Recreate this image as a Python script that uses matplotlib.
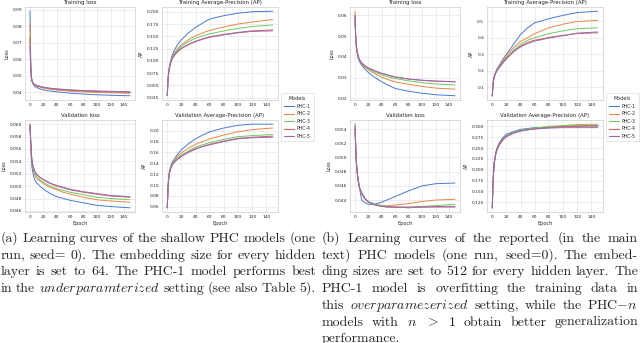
import numpy as np
import matplotlib
matplotlib.use("Agg")
import matplotlib.pyplot as plt
import seaborn as sns
from matplotlib.ticker import MultipleLocator

epochs = [0, 1, 2, 3, 5, 7, 10, 15, 20, 30, 40, 50, 60, 80, 100, 120, 149]
models = ["PHC-1", "PHC-2", "PHC-3", "PHC-4", "PHC-5"]

# (a) shallow models
a_train_loss = [
    [0.089, 0.060, 0.050, 0.0465, 0.0445, 0.0435, 0.0428, 0.0420, 0.0414, 0.0407, 0.0402, 0.0398, 0.0394, 0.0388, 0.0384, 0.0381, 0.0378],
    [0.082, 0.058, 0.050, 0.0468, 0.0450, 0.0442, 0.0436, 0.0430, 0.0425, 0.0418, 0.0413, 0.0409, 0.0406, 0.0401, 0.0398, 0.0396, 0.0393],
    [0.074, 0.056, 0.049, 0.0468, 0.0452, 0.0445, 0.0440, 0.0434, 0.0429, 0.0422, 0.0418, 0.0415, 0.0412, 0.0408, 0.0405, 0.0403, 0.0400],
    [0.073, 0.055, 0.049, 0.0467, 0.0451, 0.0444, 0.0439, 0.0433, 0.0428, 0.0421, 0.0417, 0.0414, 0.0411, 0.0407, 0.0404, 0.0402, 0.0399],
    [0.068, 0.054, 0.049, 0.0466, 0.0452, 0.0446, 0.0441, 0.0435, 0.0430, 0.0424, 0.0420, 0.0417, 0.0414, 0.0410, 0.0407, 0.0405, 0.0402],
]
a_train_ap = [
    [0.030, 0.062, 0.078, 0.088, 0.101, 0.111, 0.122, 0.134, 0.143, 0.157, 0.168, 0.177, 0.185, 0.192, 0.197, 0.200, 0.201],
    [0.030, 0.062, 0.077, 0.087, 0.099, 0.107, 0.116, 0.126, 0.133, 0.143, 0.151, 0.157, 0.162, 0.169, 0.175, 0.179, 0.184],
    [0.030, 0.061, 0.076, 0.086, 0.098, 0.106, 0.114, 0.123, 0.130, 0.139, 0.146, 0.151, 0.155, 0.161, 0.166, 0.170, 0.173],
    [0.029, 0.060, 0.075, 0.085, 0.097, 0.104, 0.111, 0.119, 0.125, 0.133, 0.139, 0.144, 0.148, 0.153, 0.157, 0.160, 0.161],
    [0.030, 0.061, 0.076, 0.086, 0.098, 0.105, 0.112, 0.120, 0.126, 0.134, 0.140, 0.145, 0.149, 0.154, 0.158, 0.161, 0.163],
]
a_val_loss = [
    [0.0600, 0.0570, 0.0545, 0.0530, 0.0518, 0.0510, 0.0505, 0.0500, 0.0495, 0.0488, 0.0483, 0.0480, 0.0477, 0.0473, 0.0469, 0.0467, 0.0465],
    [0.0598, 0.0572, 0.0550, 0.0537, 0.0525, 0.0518, 0.0512, 0.0508, 0.0504, 0.0498, 0.0494, 0.0490, 0.0487, 0.0482, 0.0478, 0.0476, 0.0474],
    [0.0596, 0.0572, 0.0552, 0.0538, 0.0527, 0.0521, 0.0515, 0.0510, 0.0506, 0.0500, 0.0496, 0.0493, 0.0490, 0.0486, 0.0482, 0.0480, 0.0478],
    [0.0599, 0.0575, 0.0553, 0.0540, 0.0530, 0.0524, 0.0519, 0.0514, 0.0510, 0.0504, 0.0500, 0.0497, 0.0494, 0.0490, 0.0487, 0.0484, 0.0482],
    [0.0597, 0.0574, 0.0553, 0.0540, 0.0530, 0.0524, 0.0519, 0.0514, 0.0511, 0.0505, 0.0501, 0.0498, 0.0495, 0.0491, 0.0488, 0.0485, 0.0483],
]
a_val_ap = [
    [0.058, 0.095, 0.115, 0.125, 0.135, 0.142, 0.148, 0.157, 0.165, 0.176, 0.185, 0.192, 0.198, 0.205, 0.210, 0.212, 0.212],
    [0.058, 0.094, 0.113, 0.123, 0.133, 0.139, 0.145, 0.153, 0.159, 0.168, 0.175, 0.180, 0.185, 0.192, 0.198, 0.202, 0.205],
    [0.058, 0.094, 0.113, 0.123, 0.132, 0.138, 0.144, 0.150, 0.155, 0.163, 0.170, 0.174, 0.178, 0.184, 0.189, 0.191, 0.193],
    [0.058, 0.093, 0.112, 0.122, 0.131, 0.137, 0.142, 0.148, 0.153, 0.160, 0.166, 0.171, 0.175, 0.181, 0.186, 0.188, 0.190],
    [0.058, 0.093, 0.112, 0.122, 0.131, 0.137, 0.142, 0.148, 0.153, 0.161, 0.167, 0.171, 0.174, 0.180, 0.185, 0.187, 0.188],
]

# (b) reported models
b_train_loss = [
    [0.060, 0.050, 0.045, 0.042, 0.039, 0.0375, 0.036, 0.034, 0.0325, 0.030, 0.028, 0.0263, 0.0248, 0.0235, 0.0225, 0.0218, 0.0213],
    [0.062, 0.051, 0.046, 0.043, 0.040, 0.038, 0.0365, 0.035, 0.0338, 0.0318, 0.0302, 0.029, 0.028, 0.0268, 0.0258, 0.0250, 0.0245],
    [0.059, 0.050, 0.045, 0.0425, 0.0398, 0.0382, 0.0368, 0.0353, 0.0342, 0.0326, 0.0313, 0.0303, 0.0296, 0.0285, 0.0276, 0.0270, 0.0265],
    [0.058, 0.049, 0.045, 0.0425, 0.040, 0.0385, 0.037, 0.0356, 0.0346, 0.0332, 0.0320, 0.0311, 0.0303, 0.0293, 0.0287, 0.0283, 0.0280],
    [0.060, 0.050, 0.0455, 0.043, 0.0402, 0.0386, 0.0372, 0.0357, 0.0347, 0.0333, 0.0321, 0.0312, 0.0304, 0.0294, 0.0288, 0.0284, 0.0281],
]
b_train_ap = [
    [0.05, 0.12, 0.15, 0.17, 0.195, 0.215, 0.235, 0.270, 0.300, 0.360, 0.420, 0.460, 0.490, 0.515, 0.535, 0.552, 0.560],
    [0.05, 0.12, 0.15, 0.17, 0.193, 0.210, 0.230, 0.262, 0.290, 0.340, 0.378, 0.400, 0.425, 0.460, 0.482, 0.498, 0.505],
    [0.05, 0.12, 0.15, 0.17, 0.190, 0.207, 0.225, 0.255, 0.280, 0.325, 0.360, 0.385, 0.400, 0.425, 0.442, 0.455, 0.460],
    [0.05, 0.12, 0.15, 0.168, 0.188, 0.205, 0.222, 0.250, 0.275, 0.318, 0.350, 0.372, 0.385, 0.402, 0.415, 0.425, 0.430],
    [0.05, 0.12, 0.148, 0.167, 0.187, 0.203, 0.220, 0.248, 0.272, 0.315, 0.345, 0.365, 0.380, 0.398, 0.412, 0.428, 0.435],
]
b_val_loss = [
    [0.0547, 0.0520, 0.0495, 0.0480, 0.0465, 0.0455, 0.0440, 0.0436, 0.0434, 0.0434, 0.0437, 0.0441, 0.0445, 0.0453, 0.0460, 0.0463, 0.0464],
    [0.0545, 0.0518, 0.0496, 0.0482, 0.0466, 0.0456, 0.0448, 0.0441, 0.0437, 0.0434, 0.0432, 0.0432, 0.0433, 0.0435, 0.0438, 0.0440, 0.0441],
    [0.0540, 0.0515, 0.0494, 0.0481, 0.0466, 0.0457, 0.0450, 0.0442, 0.0438, 0.0434, 0.0432, 0.0431, 0.0430, 0.0430, 0.0431, 0.0432, 0.0434],
    [0.0538, 0.0514, 0.0493, 0.0480, 0.0466, 0.0457, 0.0450, 0.0442, 0.0437, 0.0433, 0.0431, 0.0430, 0.0430, 0.0430, 0.0430, 0.0431, 0.0431],
    [0.0542, 0.0516, 0.0494, 0.0481, 0.0466, 0.0457, 0.0449, 0.0442, 0.0437, 0.0433, 0.0431, 0.0430, 0.0430, 0.0429, 0.0430, 0.0430, 0.0430],
]
b_val_ap = [
    [0.112, 0.170, 0.200, 0.220, 0.240, 0.252, 0.262, 0.274, 0.282, 0.288, 0.293, 0.295, 0.297, 0.298, 0.300, 0.301, 0.301],
    [0.112, 0.168, 0.198, 0.218, 0.237, 0.248, 0.258, 0.270, 0.277, 0.285, 0.290, 0.293, 0.295, 0.298, 0.300, 0.302, 0.302],
    [0.112, 0.168, 0.198, 0.218, 0.237, 0.249, 0.259, 0.270, 0.278, 0.286, 0.291, 0.294, 0.296, 0.300, 0.302, 0.304, 0.305],
    [0.112, 0.167, 0.197, 0.217, 0.236, 0.247, 0.257, 0.268, 0.276, 0.284, 0.289, 0.292, 0.294, 0.297, 0.299, 0.300, 0.301],
    [0.112, 0.168, 0.198, 0.218, 0.238, 0.250, 0.260, 0.271, 0.278, 0.285, 0.290, 0.292, 0.294, 0.296, 0.297, 0.297, 0.297],
]

caption_a = [
    "(a) Learning curves of the shallow PHC models (one",
    "run, seed= 0). The embedding size for every hidden",
    "layer is set to 64. The PHC-1 model performs best",
    "in the $\\mathit{underparamterized}$ setting (see also Table 5).",
]
caption_b = [
    "(b) Learning curves of the reported (in the main",
    "text) PHC models (one run, seed=0). The embed-",
    "ding sizes are set to 512 for every hidden layer. The",
    "PHC-1 model is overfitting the training data in",
    "this $\\mathit{overparamezerized}$ setting, while the PHC$-n$",
    "models with $n$ $>$ $1$ obtain better generalization",
    "performance.",
]

sns.set_style("whitegrid")
plt.rcParams["mathtext.fontset"] = "cm"
colors = sns.color_palette("muted")

W, H = 640, 343
fig = plt.figure(figsize=(W / 100, H / 100), dpi=100)


def px_axes(x0, y0, x1, y1):
    # axes from pixel box (top-left origin)
    return fig.add_axes([x0 / W, 1 - y1 / H, (x1 - x0) / W, (y1 - y0) / H])


def draw(ax, series, title, ylabel, step, xlabel=False):
    for i, ys in enumerate(series):
        ax.plot(epochs, ys, color=colors[i], lw=0.7, label=models[i])
    ax.set_title(title, fontsize=3.9, pad=2)
    ax.set_ylabel(ylabel, fontsize=3.6, labelpad=2)
    if xlabel:
        ax.set_xlabel("Epoch", fontsize=3.6, labelpad=1.5)
    ax.xaxis.set_major_locator(MultipleLocator(20))
    ax.yaxis.set_major_locator(MultipleLocator(step))
    ax.tick_params(labelsize=3.2, length=0, pad=2)
    for s in ax.spines.values():
        s.set_linewidth(0.5)
        s.set_color("#cccccc")
    ax.grid(lw=0.5, color="#e6e6e6")


panels = [
    (0, [a_train_loss, a_train_ap, a_val_loss, a_val_ap], [0.01, 0.025, 0.002, 0.02]),
    (325, [b_train_loss, b_train_ap, b_val_loss, b_val_ap], [0.01, 0.1, 0.002, 0.025]),
]
titles = ["Training loss", "Training Average-Precision (AP)",
          "Validation loss", "Validation Average-Precision (AP)"]
ylabels = ["Loss", "AP", "Loss", "AP"]

for off, data, steps in panels:
    boxes = [(25, 7, 135, 100), (162, 7, 278, 100), (25, 120, 135, 212), (162, 120, 278, 212)]
    for k, (x0, y0, x1, y1) in enumerate(boxes):
        ax = px_axes(x0 + off, y0, x1 + off, y1)
        draw(ax, data[k], titles[k], ylabels[k], steps[k], xlabel=k >= 2)
    h, l = ax.get_legend_handles_labels()
    leg = fig.legend(h, l, title="Models", loc="upper left",
                     bbox_to_anchor=((280 + off) / W, 1 - 92 / H),
                     fontsize=3.3, title_fontsize=3.5, frameon=True,
                     handlelength=2.2, handletextpad=0.6, borderpad=0.6,
                     borderaxespad=0.3, labelspacing=0.55)
    leg.get_frame().set_linewidth(0.4)
    leg.get_frame().set_edgecolor("#cccccc")
    for line in leg.get_lines():
        line.set_linewidth(0.8)

# captions, justified by hand
renderer = fig.canvas.get_renderer()


def put_line(text, x0, x1, base, justify):
    words = text.split(" ")
    objs = [fig.text(0, 1 - base / H, w, fontsize=10.0, family="cmr10",
                     va="baseline", ha="left") for w in words]
    widths = [t.get_window_extent(renderer).width for t in objs]
    if justify and len(words) > 1:
        gap = max((x1 - x0 - sum(widths)) / (len(words) - 1), 2.5)
    else:
        gap = 4.6
    x = x0
    for t, w in zip(objs, widths):
        t.set_x(x / W)
        x += w + gap


for i, line in enumerate(caption_a):
    put_line(line, 0.5, 316, 242 + i * 16.7, True)
for i, line in enumerate(caption_b):
    put_line(line, 322, 638, 242 + i * 16.7, i < len(caption_b) - 1)

fig.savefig("out.png", dpi=100)
